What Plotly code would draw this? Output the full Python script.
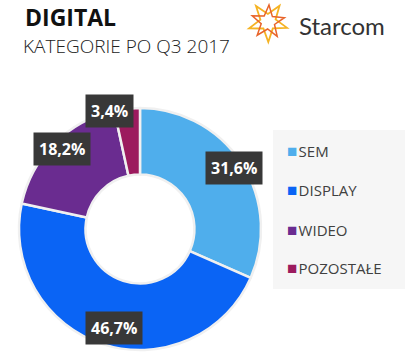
import math
import plotly.graph_objects as go

categories = ["SEM", "DISPLAY", "WIDEO", "POZOSTAŁE"]
values = [31.6, 46.7, 18.2, 3.4]
value_labels = ["31,6%", "46,7%", "18,2%", "3,4%"]
colors = ["#4FAEEC", "#0A64F5", "#6A2C90", "#9C1B5E"]

W, H = 405, 359
cx, cy, R = 140, 229, 121  # pixel geometry of the donut

fig = go.Figure()
fig.add_trace(go.Pie(
    labels=categories, values=values, sort=False, direction="clockwise",
    rotation=0, hole=0.45, textinfo="none", hoverinfo="label+percent",
    marker=dict(colors=colors, line=dict(color="#F0F0F0", width=2.5)),
    domain=dict(x=[(cx - R) / W, (cx + R) / W], y=[1 - (cy + R) / H, 1 - (cy - R) / H]),
    showlegend=False,
))

# data labels at slice mid-angles
total = sum(values)
cum = 0
label_r = [0.93, 0.86, 0.94, 0.98]
label_dx = [0, 6, 2, -18]
annotations = []
for v, t, rr, dx in zip(values, value_labels, label_r, label_dx):
    mid = (cum + v / 2) / total * 2 * math.pi
    cum += v
    px = cx + rr * R * math.sin(mid) + dx
    py = cy - rr * R * math.cos(mid)
    annotations.append(dict(
        x=px / W, y=1 - py / H, xref="paper", yref="paper", text=f"<b>{t}</b>",
        showarrow=False, font=dict(family="Open Sans", size=16, color="white"),
        bgcolor="#383838", borderpad=5, xanchor="center", yanchor="middle"))

# custom legend
leg_y = [150, 189, 229, 267]
for c, name, y in zip(colors, categories, leg_y):
    annotations.append(dict(
        x=285 / W, y=1 - y / H, xref="paper", yref="paper", xanchor="left", yanchor="middle",
        text=f"<span style='color:{c};font-size:17px'>■</span><span style='font-size:5px'> </span>{name}",
        showarrow=False, font=dict(family="Open Sans", size=15, color="#404040")))

# titles
annotations.append(dict(x=23 / W, y=1 - 17 / H, xref="paper", yref="paper", xanchor="left",
                        yanchor="middle", text="<b>DIGITAL</b>", showarrow=False,
                        font=dict(family="Open Sans", size=23, color="#111111")))
annotations.append(dict(x=21 / W, y=1 - 46 / H, xref="paper", yref="paper", xanchor="left",
                        yanchor="middle", text="KATEGORIE PO Q3 2017", showarrow=False,
                        font=dict(family="Open Sans", size=19, color="#222222", weight=300)))
annotations.append(dict(x=297 / W, y=1 - 25 / H, xref="paper", yref="paper", xanchor="left",
                        yanchor="middle", text="Starcom", showarrow=False,
                        font=dict(family="Lato", size=24, color="#333333")))

def star_path(xc, yc, ro, ri, n=6, rot=0.0):
    pts = []
    for k in range(2 * n):
        a = rot + k * math.pi / n
        r = ro if k % 2 == 0 else ri
        pts.append((xc + r * math.cos(a), yc + r * math.sin(a)))
    return "M " + " L ".join(f"{x:.1f},{y:.1f}" for x, y in pts) + " Z"

shapes = [
    dict(type="rect", xref="paper", yref="paper", x0=273 / W, x1=1, y0=1 - 289 / H, y1=1 - 130 / H,
         fillcolor="#F6F6F6", line=dict(width=0), layer="below"),
    dict(type="path", xref="x", yref="y", path=star_path(268, 22, 20, 8, 5, 0.3),
         line=dict(color="#F5B323", width=1.8)),
    dict(type="path", xref="x", yref="y", path=star_path(268, 22, 17, 7, 5, 1.0),
         line=dict(color="#E8642A", width=1.5)),
]

fig.update_layout(
    width=W, height=H, margin=dict(l=0, r=0, t=0, b=0),
    paper_bgcolor="white", plot_bgcolor="rgba(0,0,0,0)",
    annotations=annotations, shapes=shapes,
    xaxis=dict(range=[0, W], visible=False, fixedrange=True),
    yaxis=dict(range=[H, 0], visible=False, fixedrange=True),
)
fig.write_html("out.html", config={"displayModeBar": False},
               post_script="document.body.style.margin='0';document.body.style.overflow='hidden';")
